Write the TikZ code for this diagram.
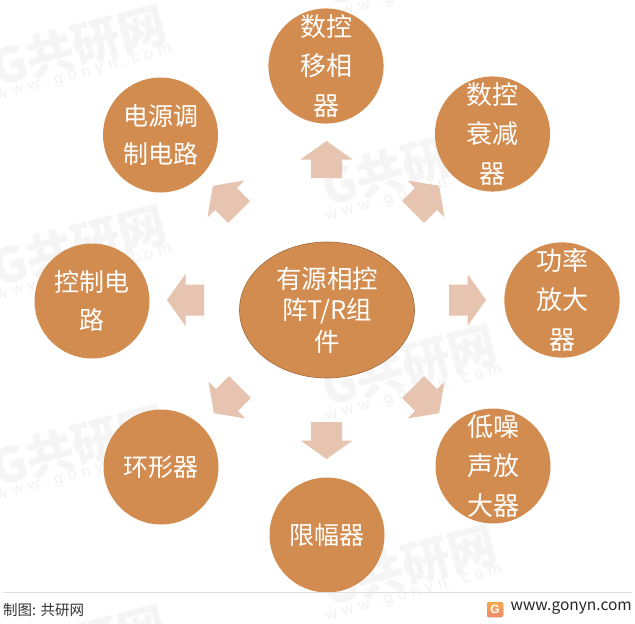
\documentclass[tikz,border=0pt]{standalone}
\usepackage{fontspec}
\setmainfont{Noto Sans CJK SC}
\newfontfamily\latinfont{Liberation Sans}
\definecolor{orangefill}{HTML}{D38C4F}
\definecolor{orangeedge}{HTML}{9C6A3C}
\definecolor{arrowfill}{HTML}{E6C4B0}
\definecolor{wmgray}{HTML}{F5F5F5}
\definecolor{wmgrayb}{HTML}{F2F2F2}
\definecolor{logoa}{HTML}{F6A94A}
\definecolor{logob}{HTML}{F08A6A}
\usetikzlibrary{shapes.geometric}
\tikzset{
  x=1pt,y=-1pt,
  ball/.style={circle,fill=orangefill,minimum size=115pt,inner sep=0pt,text=white,align=center,font=\fontsize{25}{38.5}\selectfont},
  tallball/.style={ball,font=\fontsize{26}{39.5}\selectfont},
  hub/.style={ellipse,draw=orangeedge,line width=0.6pt,fill=orangefill,minimum width=175pt,minimum height=136pt,inner sep=0pt,text=white,align=center,font=\fontsize{25.5}{31.5}\selectfont},
  flowarrow/.style={fill=arrowfill},
  wmbig/.style={text=wmgray,font=\fontsize{48}{48}\selectfont\bfseries,rotate=15,inner sep=0pt},
  wmsmall/.style={text=wmgrayb,font=\fontsize{16}{16}\selectfont\latinfont,rotate=15,inner sep=0pt},
}
\newcommand{\flowshape}[3]{%
  \fill[flowarrow,shift={(#1,#2)},rotate=#3]
    (-15.5,0) -- (-15.5,-18.5) -- (-26,-18.5) -- (0,-37) -- (26,-18.5) -- (15.5,-18.5) -- (15.5,0) -- cycle;}
\newcommand{\wmtile}[3]{%
  \node[wmbig] (wmb#3) at (#1+79,#2+46) {G共研网};
  \node[wmsmall] (wms#3) at (#1+84,#2+74) {w\,\,w\,\,w\,\,.\,\,g\,\,o\,\,n\,\,y\,\,n\,\,.\,\,c\,\,o\,\,m};}
\begin{document}
\begin{tikzpicture}
\useasboundingbox (0,0) rectangle (635,624);
\fill[white] (0,0) rectangle (635,624);
\begin{scope}
\clip (0,0) rectangle (635,624);
\wmtile{0}{0}{a}
\wmtile{0}{200}{b}
\wmtile{0}{400}{c}
\wmtile{0}{600}{d}
\wmtile{330}{-80}{e}
\wmtile{330}{120}{f}
\wmtile{330}{320}{g}
\wmtile{330}{520}{h}
\end{scope}
\flowshape{326.5}{178}{0}
\flowshape{413}{212}{-45}
\flowshape{449}{300}{-90}
\flowshape{413}{387}{-135}
\flowshape{326.5}{422}{180}
\flowshape{240}{387}{135}
\flowshape{204}{300}{90}
\flowshape{239}{212}{45}
\node[hub] (center) at (327,310) {有源相控\\阵T/R组\\件};
\node[tallball] (n1) at (326,66) {数控\\移相\\器};
\node[tallball] (n2) at (492.5,134) {数控\\衰减\\器};
\node[tallball] (n3) at (562,300) {功率\\放大\\器};
\node[tallball] (n4) at (493,466) {低噪\\声放\\大器};
\node[ball] (n5) at (327,535) {限幅器};
\node[ball] (n6) at (161,467) {环形器};
\node[ball] (n7) at (92,301) {控制电\\路};
\node[ball] (n8) at (160.5,135) {电源调\\制电路};
\draw[color=black!12,line width=0.6pt] (3,592) -- (632,592);
\node[anchor=west,inner sep=0pt,text=black!80,font=\fontsize{14.5}{16}\selectfont] (src) at (3,610) {制图: 共研网};
\fill[rounded corners=1.5pt,top color=logoa,bottom color=logob] (487,602) rectangle (503,617);
\node[text=white,font=\fontsize{12}{12}\selectfont\bfseries\latinfont,inner sep=0pt] (logo) at (495,609.5) {G};
\node[anchor=east,inner sep=0pt,text=black!85,font=\fontsize{15.5}{18}\selectfont] (site) at (632,608) {www.gonyn.com};
\end{tikzpicture}
\end{document}
